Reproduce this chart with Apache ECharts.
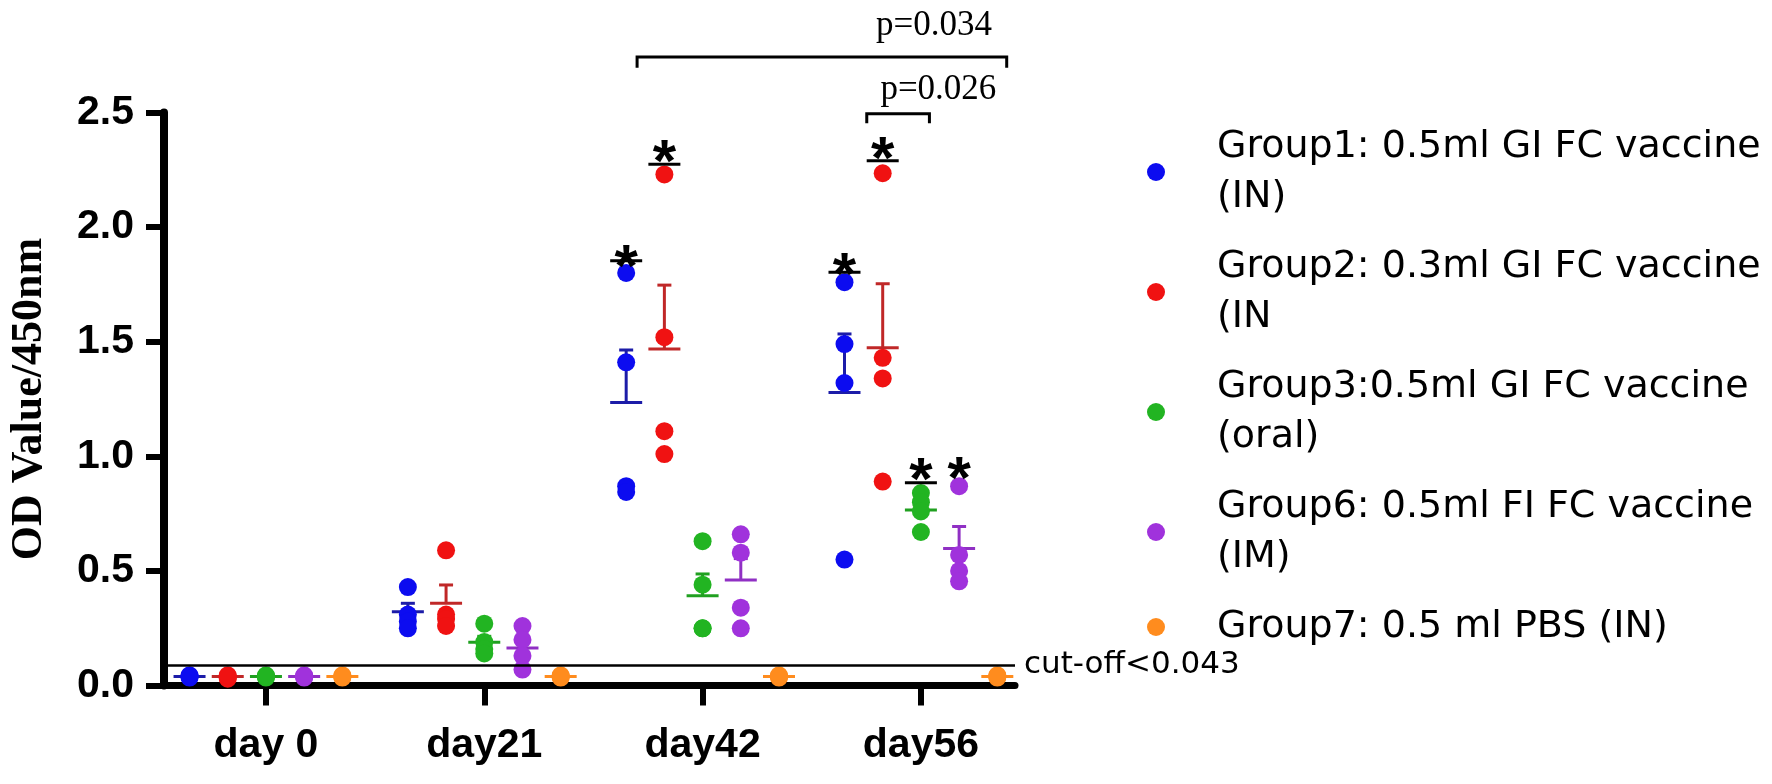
<!DOCTYPE html>
<html><head><meta charset="utf-8">
<script src="https://cdn.jsdelivr.net/npm/echarts@6/dist/echarts.min.js"></script>
<style>html,body{margin:0;padding:0;background:#fff}#c{width:1772px;height:784px}</style>
</head><body><div id="c"></div>
<script>
// ---------- data ----------
const days = ['day 0', 'day21', 'day42', 'day56'];
const groupNames = [
  'Group1: 0.5ml GI FC vaccine\n(IN)',
  'Group2: 0.3ml GI FC vaccine\n(IN',
  'Group3:0.5ml GI FC vaccine\n(oral)',
  'Group6: 0.5ml FI FC vaccine\n(IM)',
  'Group7: 0.5 ml PBS (IN)'
];
// individual OD values, per day (day 0, 21, 42, 56)
const group1 = [[0.04, 0.035, 0.045, 0.04], [0.43, 0.31, 0.28, 0.25], [1.80, 1.41, 0.87, 0.845], [1.76, 1.49, 1.32, 0.55]];
const group2 = [[0.035, 0.04, 0.03, 0.045], [0.59, 0.31, 0.29, 0.26], [2.23, 1.52, 1.11, 1.01], [2.235, 1.43, 1.34, 0.89]];
const group3 = [[0.04, 0.045, 0.035, 0.04], [0.27, 0.19, 0.16, 0.14], [0.63, 0.44, 0.25, 0.25], [0.84, 0.80, 0.76, 0.67]];
const group6 = [[0.04, 0.035, 0.045, 0.04], [0.26, 0.20, 0.13, 0.07], [0.66, 0.58, 0.34, 0.25], [0.87, 0.57, 0.50, 0.455]];
const group7 = [[0.04, 0.045, 0.035, 0.04], [0.04, 0.045, 0.035, 0.04], [0.04, 0.035, 0.045, 0.04], [0.04, 0.045, 0.035, 0.04]];
// mean lines and upper SEM caps (per group, per day)
const meanValues = [[0.04, 0.322, 1.235, 1.279], [0.04, 0.359, 1.468, 1.474], [0.04, 0.189, 0.392, 0.766], [0.04, 0.164, 0.461, 0.598], [0.04, 0.04, 0.04, 0.04]];
const semTopValues = [[0.04, 0.359, 1.464, 1.534], [0.04, 0.439, 1.747, 1.753], [0.04, 0.215, 0.487, 0.80], [0.04, 0.206, 0.554, 0.694], [0.04, 0.04, 0.04, 0.04]];
// significance stars: day index, group index, star value, underline value (null = none)
const starDay = [2, 2, 3, 3, 3, 3];
const starGroup = [0, 1, 0, 1, 2, 3];
const starValue = [1.871, 2.328, 1.839, 2.341, 0.941, 0.949];
const starLine = [1.853, 2.274, 1.803, 2.29, 0.885, null];
// p-value brackets
const bracketLabels = ['p=0.034', 'p=0.026'];
const bracketFrom = [1.70, 2.752];
const bracketTo = [3.393, 3.039];
const bracketLevel = [2.742, 2.495];
const bracketDrop = [2.695, 2.453];
const bracketTextX = [3.06, 3.08];
const bracketTextY = [2.878, 2.599];
const cutoffValue = 0.087;
const cutoffLabel = 'cut-off<0.043';
const yTicks = [0, 0.5, 1.0, 1.5, 2.0, 2.5];

// ---------- styling ----------
const groups = [group1, group2, group3, group6, group7];
const pointColors = ['#0c0cf0', '#f01212', '#22b422', '#a032dc', '#ff8c1e'];
const meanColors = ['#1c1ca8', '#c02828', '#20a020', '#9030c4', '#ff8c1e'];
const offsets = [-0.35, -0.175, 0, 0.175, 0.35];

const series = [];
groups.forEach((g, gi) => {
  const data = [];
  g.forEach((vals, d) => vals.forEach(v => data.push([d + offsets[gi], v])));
  series.push({
    name: groupNames[gi], type: 'scatter', data, symbol: 'circle', symbolSize: 18,
    itemStyle: { color: pointColors[gi], opacity: 1 }, z: 4,
    markLine: gi === 4 ? {
      silent: true, symbol: 'none', animation: false,
      lineStyle: { color: '#000', width: 2.5, type: 'solid' },
      label: { show: true, position: 'end', distance: 9, formatter: cutoffLabel, color: '#000', fontFamily: 'DejaVu Sans', fontSize: 31 },
      data: [{ yAxis: cutoffValue }]
    } : undefined
  });
  const md = meanValues[gi].map((m, d) => [d + offsets[gi], m, semTopValues[gi][d]]);
  series.push({
    name: 'mean' + gi, type: 'custom', data: md, z: 3, clip: false,
    renderItem: (params, api) => {
      const x = api.value(0), m = api.value(1), t = api.value(2);
      const pm = api.coord([x, m]), pt = api.coord([x, t]);
      const st = { stroke: meanColors[gi], lineWidth: 3 };
      const ch = [{ type: 'line', shape: { x1: pm[0] - 16, y1: pm[1], x2: pm[0] + 16, y2: pm[1] }, style: st }];
      if (pm[1] - pt[1] > 2) {
        ch.push({ type: 'line', shape: { x1: pm[0], y1: pm[1], x2: pt[0], y2: pt[1] }, style: st });
        ch.push({ type: 'line', shape: { x1: pt[0] - 7, y1: pt[1], x2: pt[0] + 7, y2: pt[1] }, style: st });
      }
      return { type: 'group', children: ch };
    }
  });
});

series.push({
  name: 'stars', type: 'custom', clip: false, z: 6,
  data: starDay.map((d, i) => [d + offsets[starGroup[i]], starValue[i]]),
  renderItem: (params, api) => {
    const i = params.dataIndex;
    const p = api.coord([api.value(0), api.value(1)]);
    const ch = [{ type: 'text', style: { text: '*', x: p[0], y: p[1] + 13, fill: '#000', font: 'bold 60px "Liberation Sans", Arial', align: 'center', verticalAlign: 'middle' } }];
    if (starLine[i] !== null) {
      const l = api.coord([api.value(0), starLine[i]]);
      ch.push({ type: 'line', shape: { x1: l[0] - 16, y1: l[1], x2: l[0] + 16, y2: l[1] }, style: { stroke: '#000', lineWidth: 3 } });
    }
    return { type: 'group', children: ch };
  }
});

series.push({
  name: 'brackets', type: 'custom', clip: false, z: 6,
  data: bracketLabels.map((b, i) => [bracketFrom[i], bracketLevel[i]]),
  renderItem: (params, api) => {
    const i = params.dataIndex;
    const a = api.coord([bracketFrom[i], bracketDrop[i]]);
    const b = api.coord([bracketFrom[i], bracketLevel[i]]);
    const c = api.coord([bracketTo[i], bracketLevel[i]]);
    const d = api.coord([bracketTo[i], bracketDrop[i]]);
    const t = api.coord([bracketTextX[i], bracketTextY[i]]);
    return { type: 'group', children: [
      { type: 'polyline', shape: { points: [a, b, c, d] }, style: { stroke: '#000', lineWidth: 3, fill: null } },
      { type: 'text', style: { text: bracketLabels[i], x: t[0], y: t[1], fill: '#000', font: '35px "Liberation Serif", "Times New Roman", serif', align: 'center', verticalAlign: 'middle' } }
    ] };
  }
});

const chart = echarts.init(document.getElementById('c'));
chart.setOption({
  animation: false,
  backgroundColor: '#fff',
  grid: { left: 164, right: 757, top: 112.5, bottom: 98.4, outerBoundsMode: 'none' },
  legend: {
    orient: 'vertical', left: 1147, top: 122, padding: 0, itemGap: 20,
    itemWidth: 18, itemHeight: 18, icon: 'circle', selectedMode: false,
    data: groupNames,
    textStyle: { fontFamily: 'DejaVu Sans', fontSize: 38, lineHeight: 50, color: '#000', padding: [0, 0, 0, 47] }
  },
  xAxis: {
    type: 'value', min: -0.467, max: 3.431,
    axisLine: { show: true, onZero: false, lineStyle: { color: '#000', width: 7 } },
    axisTick: { show: true, customValues: [0, 1, 2, 3], length: 20, lineStyle: { color: '#000', width: 6 } },
    axisLabel: { show: true, customValues: [0, 1, 2, 3], formatter: v => days[Math.round(v)], margin: 40, color: '#000', fontFamily: 'Liberation Sans', fontWeight: 'bold', fontSize: 41 },
    splitLine: { show: false }
  },
  yAxis: {
    type: 'value', min: 0, max: 2.5, interval: 0.5,
    name: 'OD Value/450nm', nameLocation: 'middle', nameRotate: 90, nameGap: 112,
    nameTextStyle: { fontFamily: 'Liberation Serif', fontWeight: 'bold', fontSize: 44, color: '#000' },
    axisLine: { show: true, onZero: false, lineStyle: { color: '#000', width: 8 } },
    axisTick: { show: true, length: 18, lineStyle: { color: '#000', width: 6 } },
    axisLabel: { margin: 30, color: '#000', fontFamily: 'Liberation Sans', fontWeight: 'bold', fontSize: 41, formatter: v => yTicks.includes(v) ? v.toFixed(1) : '' },
    splitLine: { show: false }
  },
  series
});
</script></body></html>
